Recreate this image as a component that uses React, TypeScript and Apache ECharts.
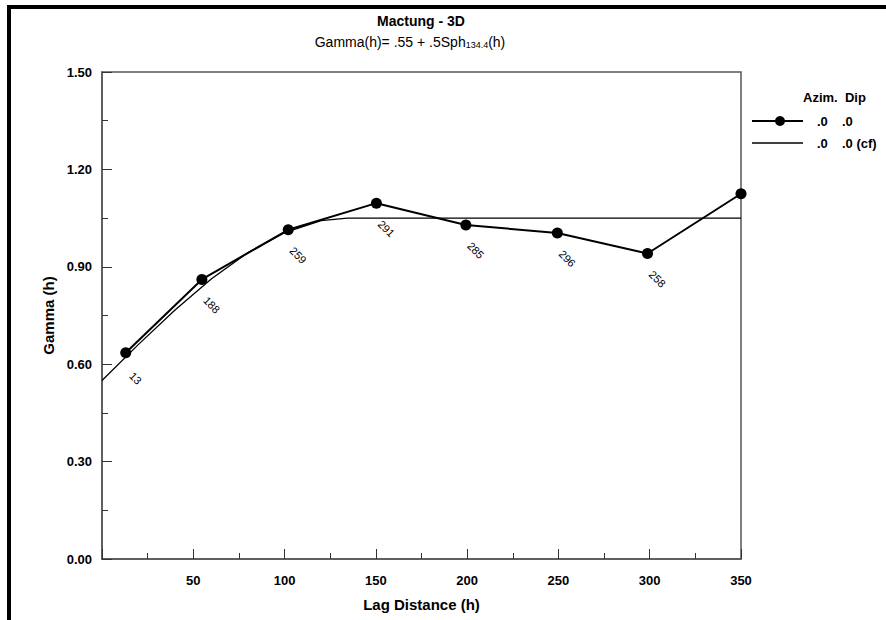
import React, { useEffect, useRef } from "react";
import * as echarts from "echarts";

// Experimental variogram points
const lagDist = [13.0, 54.7, 102.0, 150.3, 199.3, 249.4, 298.8, 350.0];
const gammaVals = [0.635, 0.861, 1.014, 1.096, 1.029, 1.004, 0.941, 1.125];
const pairCounts = ["13", "188", "259", "291", "285", "296", "258", ""];

// Fitted model curve
const modelLag = [0, 20, 40, 60, 80, 100, 120, 134.4, 350];
const modelGamma = [0.55, 0.661, 0.767, 0.863, 0.944, 1.005, 1.042, 1.05, 1.05];

// Ticks
const xTickLabels = ["", "50", "100", "150", "200", "250", "300", "350"];
const yTickLabels = ["0.00", "0.30", "0.60", "0.90", "1.20", "1.50"];

const FONT = "Liberation Sans, Arial, sans-serif";

export default function App() {
  const ref = useRef<HTMLDivElement>(null);
  useEffect(() => {
    if (!ref.current) return;
    const chart = echarts.init(ref.current, null, { renderer: "svg" });
    const dataPts = lagDist.map((x, i) => ({
      value: [x, gammaVals[i]],
      label: { show: pairCounts[i] !== "", formatter: pairCounts[i] },
    }));
    const modelPts = modelLag.map((x, i) => [x, modelGamma[i]]);
    const option: any = {
      animation: false,
      backgroundColor: "#fff",
      textStyle: { fontFamily: FONT },
      grid: {
        left: 102,
        right: 145,
        top: 72,
        bottom: 61,
        show: true,
        borderColor: "#555",
        borderWidth: 1.5,
        backgroundColor: "transparent",
      },
      xAxis: {
        type: "value",
        min: 0,
        max: 350,
        interval: 50,
        name: "Lag Distance (h)",
        nameLocation: "middle",
        nameGap: 38,
        nameTextStyle: { fontSize: 15, fontWeight: "bold", color: "#000", fontFamily: FONT },
        axisLine: { show: true, lineStyle: { color: "#555", width: 1.5 } },
        axisTick: { show: true, inside: true, length: 10, lineStyle: { color: "#333" } },
        minorTick: { show: true, splitNumber: 2, length: 6, lineStyle: { color: "#333" } },
        splitLine: { show: false },
        axisLabel: {
          fontSize: 13,
          fontWeight: "bold",
          color: "#000",
          margin: 15,
          fontFamily: FONT,
          formatter: (v: number) => xTickLabels[Math.round(v / 50)] ?? "",
        },
      },
      yAxis: {
        type: "value",
        min: 0,
        max: 1.5,
        interval: 0.3,
        name: "Gamma (h)",
        nameLocation: "middle",
        nameRotate: 90,
        nameGap: 46,
        nameTextStyle: { fontSize: 15, fontWeight: "bold", color: "#000", fontFamily: FONT },
        axisLine: { show: true, lineStyle: { color: "#555", width: 1.5 } },
        axisTick: { show: true, inside: true, length: 10, lineStyle: { color: "#333" } },
        minorTick: { show: true, splitNumber: 2, length: 6, lineStyle: { color: "#333" } },
        splitLine: { show: false },
        axisLabel: {
          fontSize: 13,
          fontWeight: "bold",
          color: "#000",
          margin: 10,
          fontFamily: FONT,
          formatter: (v: number) => yTickLabels[Math.round(v / 0.3)] ?? "",
        },
      },
      series: [
        {
          type: "line",
          data: modelPts,
          showSymbol: false,
          symbol: "none",
          lineStyle: { color: "#000", width: 1.3 },
          z: 2,
        },
        {
          type: "line",
          data: dataPts,
          symbol: "circle",
          symbolSize: 11,
          itemStyle: { color: "#000" },
          lineStyle: { color: "#000", width: 2 },
          clip: false,
          z: 3,
          label: {
            show: true,
            position: "inside",
            offset: [25, 11],
            rotate: -45,
            fontSize: 11,
            color: "#000",
            textBorderWidth: 0,
            fontFamily: FONT,
          },
        },
      ],
      graphic: [
        // page border
        { type: "rect", shape: { x: 7, y: 5, width: 879, height: 4 }, style: { fill: "#000" } },
        { type: "rect", shape: { x: 7, y: 5, width: 4, height: 615 }, style: { fill: "#000" } },
        // titles
        {
          type: "text",
          x: 421,
          y: 21,
          style: {
            text: "Mactung - 3D",
            font: "bold 14px " + FONT,
            fill: "#000",
            align: "center",
            verticalAlign: "middle",
          },
        },
        {
          type: "text",
          x: 410,
          y: 40,
          style: {
            text: "{n|Gamma(h)= .55 + .5Sph}{s|134.4}{n|(h)}",
            align: "center",
            verticalAlign: "middle",
            fill: "#000",
            rich: {
              n: { fontSize: 14, fontFamily: FONT, fill: "#000", lineHeight: 18, verticalAlign: "bottom" },
              s: { fontSize: 9, fontFamily: FONT, fill: "#000", lineHeight: 18, verticalAlign: "bottom", padding: [7, 0, 0, 0] },
            },
          },
        },
        // legend
        {
          type: "text",
          x: 803,
          y: 97,
          style: { text: "Azim.  Dip", font: "bold 13px " + FONT, fill: "#000", verticalAlign: "middle" },
        },
        { type: "line", shape: { x1: 752, y1: 121, x2: 803, y2: 121 }, style: { stroke: "#000", lineWidth: 2 } },
        { type: "circle", shape: { cx: 780, cy: 121, r: 5 }, style: { fill: "#000" } },
        {
          type: "text",
          x: 817,
          y: 121,
          style: { text: ".0", font: "bold 13px " + FONT, fill: "#000", verticalAlign: "middle" },
        },
        {
          type: "text",
          x: 842,
          y: 121,
          style: { text: ".0", font: "bold 13px " + FONT, fill: "#000", verticalAlign: "middle" },
        },
        { type: "line", shape: { x1: 752, y1: 143, x2: 803, y2: 143 }, style: { stroke: "#000", lineWidth: 1.3 } },
        {
          type: "text",
          x: 817,
          y: 143,
          style: { text: ".0", font: "bold 13px " + FONT, fill: "#000", verticalAlign: "middle" },
        },
        {
          type: "text",
          x: 842,
          y: 143,
          style: { text: ".0 (cf)", font: "bold 13px " + FONT, fill: "#000", verticalAlign: "middle" },
        },
      ],
    };
    chart.setOption(option);
    return () => chart.dispose();
  }, []);
  return (
    <div
      ref={ref}
      style={{ position: "fixed", left: 0, top: 0, width: 886, height: 620, background: "#fff" }}
    />
  );
}
